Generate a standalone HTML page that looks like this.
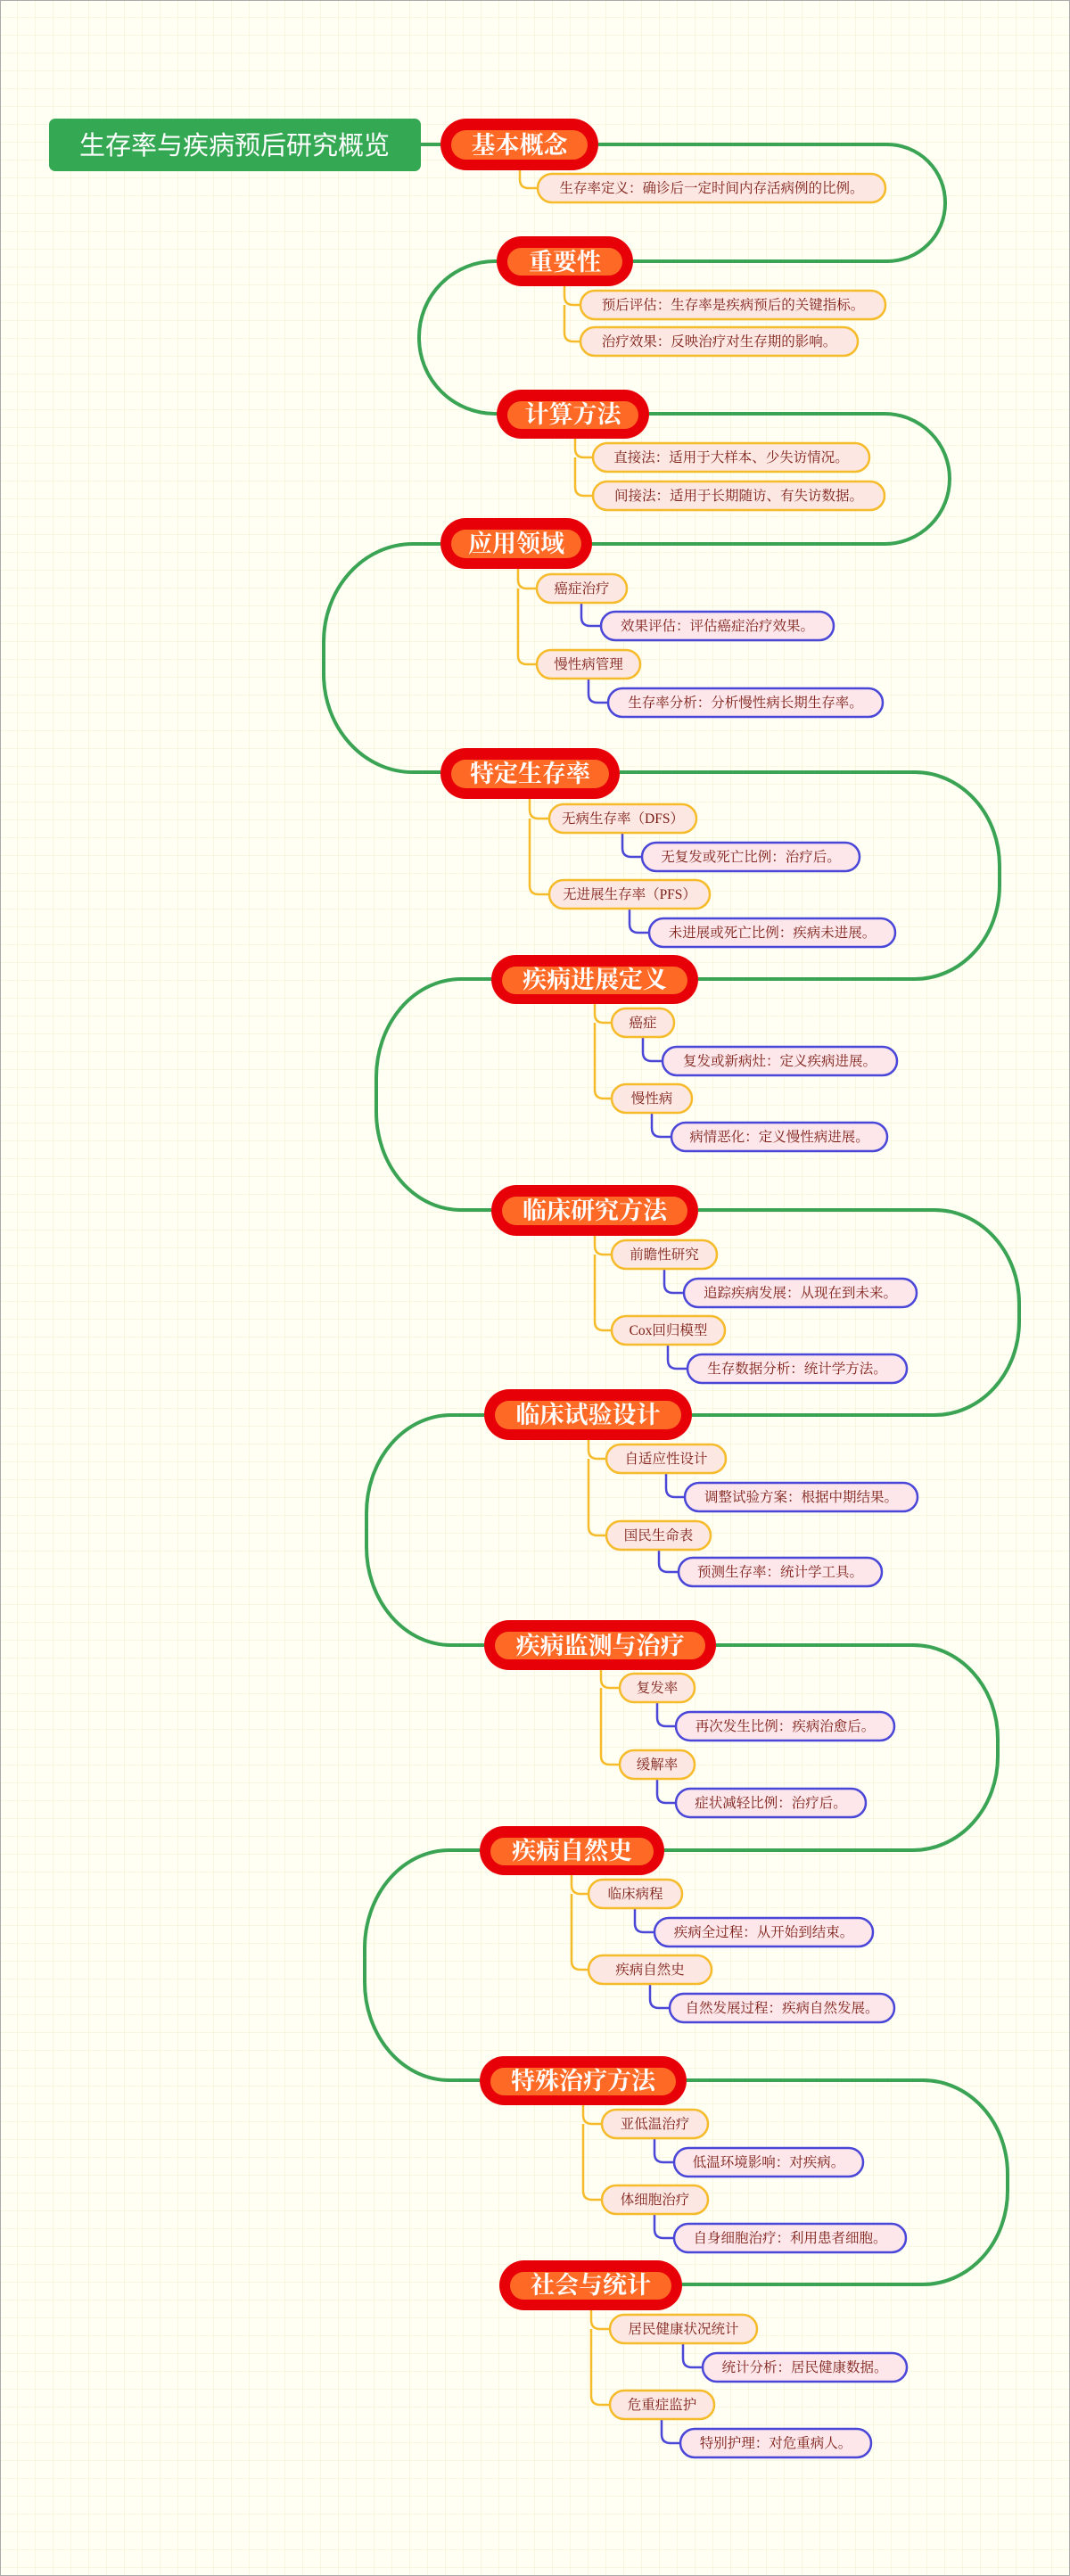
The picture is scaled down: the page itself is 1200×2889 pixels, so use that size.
<!DOCTYPE html>
<html><head><meta charset="utf-8"><style>
html,body{margin:0;padding:0;width:1200px;height:2889px;overflow:hidden;background:#fffff3}
svg{display:block}
.mt{font-family:"Liberation Serif","Noto Serif CJK SC",serif;font-weight:bold;font-size:27px;fill:#fff}
.ct{font-family:"Liberation Serif","Noto Serif CJK SC",serif;font-size:15.5px;fill:#7a1a12}
</style></head><body>
<svg width="1200" height="2889" viewBox="0 0 1200 2889" xmlns="http://www.w3.org/2000/svg">
<defs>
<pattern id="g" width="20" height="20" patternUnits="userSpaceOnUse">
<path d="M20 0V20M0 20H20" stroke="#f2f2d6" stroke-width="1.2" fill="none"/>
</pattern>
</defs>
<rect width="1200" height="2889" fill="#fffff3"/>
<rect width="1200" height="2889" fill="url(#g)"/>
<rect x="0.5" y="0.5" width="1199" height="2888" fill="none" stroke="#aaa" stroke-width="1"/>

<!-- green loops -->
<g fill="none" stroke="#3aa354" stroke-width="4">
<path d="M472 162H494"/>
<path d="M671 162H995A65 65 0 0 1 1060 227V228A65 65 0 0 1 995 293H710"/>
<path d="M557 293H555A85 85 0 0 0 470 378V379A85 85 0 0 0 555 464H557"/>
<path d="M728 464H992A73 73 0 0 1 1065 537V537A73 73 0 0 1 992 610H664"/>
<path d="M494 610H463A100 110 0 0 0 363 720V756A100 110 0 0 0 463 866H494"/>
<path d="M695 866H1026A95 105 0 0 1 1121 971V993A95 105 0 0 1 1026 1098H783"/>
<path d="M551 1098H517A95 110 0 0 0 422 1208V1247A95 110 0 0 0 517 1357H551"/>
<path d="M783 1357H1048A95 105 0 0 1 1143 1462V1482A95 105 0 0 1 1048 1587H776"/>
<path d="M543 1587H506A95 110 0 0 0 411 1697V1735A95 110 0 0 0 506 1845H543"/>
<path d="M803 1845H1024A95 105 0 0 1 1119 1950V1970A95 105 0 0 1 1024 2075H745"/>
<path d="M538 2075H504A95 110 0 0 0 409 2185V2223A95 110 0 0 0 504 2333H538"/>
<path d="M770 2333H1035A95 105 0 0 1 1130 2438V2457A95 105 0 0 1 1035 2562H765"/>
</g>

<!-- yellow connectors -->
<g fill="none" stroke="#f5bb2a" stroke-width="2.5">
<path d="M583 191V201Q583 211 593 211H603"/>
<path d="M633 321V332Q633 342 643 342H651M633 342V373Q633 383 643 383H651"/>
<path d="M645 492V503Q645 513 655 513H665M645 513V546Q645 556 655 556H665"/>
<path d="M581 638V650Q581 660 591 660H602M581 660V735Q581 745 591 745H602"/>
<path d="M594 896V908Q594 918 604 918H616M594 918V993Q594 1003 604 1003H616"/>
<path d="M667 1126V1137Q667 1147 677 1147H686M667 1147V1222Q667 1232 677 1232H686"/>
<path d="M667 1386V1397Q667 1407 677 1407H686M667 1407V1482Q667 1492 677 1492H686"/>
<path d="M660 1615V1626Q660 1636 670 1636H680M660 1636V1712Q660 1722 670 1722H680"/>
<path d="M674 1873V1883Q674 1893 684 1893H695M674 1893V1969Q674 1979 684 1979H695"/>
<path d="M641 2103V2114Q641 2124 651 2124H660M641 2124V2199Q641 2209 651 2209H660"/>
<path d="M654 2361V2372Q654 2382 664 2382H675M654 2382V2457Q654 2467 664 2467H675"/>
<path d="M663 2591V2602Q663 2612 673 2612H684M663 2612V2687Q663 2697 673 2697H684"/>
</g>

<!-- blue connectors -->
<g fill="none" stroke="#4a46d8" stroke-width="2.5">
<path d="M652 676V692Q652 702 662 702H674"/>
<path d="M660 761V778Q660 788 670 788H682"/>
<path d="M698 934V951Q698 961 708 961H720"/>
<path d="M706 1019V1036Q706 1046 716 1046H728"/>
<path d="M721 1163V1180Q721 1190 731 1190H743"/>
<path d="M731 1248V1265Q731 1275 741 1275H753"/>
<path d="M745 1423V1440Q745 1450 755 1450H767"/>
<path d="M749 1508V1525Q749 1535 759 1535H771"/>
<path d="M747 1652V1669Q747 1679 757 1679H768"/>
<path d="M739 1738V1753Q739 1763 749 1763H761"/>
<path d="M737 1909V1926Q737 1936 747 1936H758"/>
<path d="M737 1995V2012Q737 2022 747 2022H758"/>
<path d="M712 2140V2157Q712 2167 722 2167H734"/>
<path d="M729 2225V2242Q729 2252 739 2252H751"/>
<path d="M734 2398V2415Q734 2425 744 2425H756"/>
<path d="M734 2483V2500Q734 2510 744 2510H756"/>
<path d="M766 2628V2645Q766 2655 776 2655H788"/>
<path d="M742 2713V2730Q742 2740 752 2740H763"/>
</g>

<!-- title -->
<rect x="55" y="133" width="417" height="59" rx="7" fill="#35a853"/>
<text x="263" y="173" text-anchor="middle" style="font-family:'Liberation Sans','Noto Sans CJK SC',sans-serif;font-size:29px;fill:#fff">生存率与疾病预后研究概览</text>

<!-- main nodes -->
<g>
<rect x="494" y="133" width="177" height="58" rx="29" fill="#e80008"/><rect x="506" y="146" width="153" height="33" rx="16.5" fill="#fe6a26"/>
<text class="mt" x="582.5" y="172" text-anchor="middle">基本概念</text>
<rect x="557" y="265" width="153" height="56" rx="28" fill="#e80008"/><rect x="569" y="278" width="129" height="31" rx="15.5" fill="#fe6a26"/>
<text class="mt" x="633.5" y="303" text-anchor="middle">重要性</text>
<rect x="557" y="437" width="171" height="55" rx="27.5" fill="#e80008"/><rect x="569" y="450" width="147" height="31" rx="15.5" fill="#fe6a26"/>
<text class="mt" x="642.5" y="474" text-anchor="middle">计算方法</text>
<rect x="494" y="581" width="170" height="57" rx="28.5" fill="#e80008"/><rect x="506" y="594" width="146" height="32" rx="16" fill="#fe6a26"/>
<text class="mt" x="579" y="619" text-anchor="middle">应用领域</text>
<rect x="494" y="839" width="201" height="57" rx="28.5" fill="#e80008"/><rect x="506" y="852" width="177" height="32" rx="16" fill="#fe6a26"/>
<text class="mt" x="594.5" y="877" text-anchor="middle">特定生存率</text>
<rect x="551" y="1071" width="232" height="55" rx="27.5" fill="#e80008"/><rect x="563" y="1084" width="208" height="31" rx="15.5" fill="#fe6a26"/>
<text class="mt" x="667" y="1108" text-anchor="middle">疾病进展定义</text>
<rect x="551" y="1329" width="232" height="57" rx="28.5" fill="#e80008"/><rect x="563" y="1342" width="208" height="32" rx="16" fill="#fe6a26"/>
<text class="mt" x="667" y="1367" text-anchor="middle">临床研究方法</text>
<rect x="543" y="1558" width="233" height="57" rx="28.5" fill="#e80008"/><rect x="555" y="1571" width="209" height="32" rx="16" fill="#fe6a26"/>
<text class="mt" x="659.5" y="1596" text-anchor="middle">临床试验设计</text>
<rect x="543" y="1817" width="260" height="56" rx="28" fill="#e80008"/><rect x="555" y="1830" width="236" height="31" rx="15.5" fill="#fe6a26"/>
<text class="mt" x="673" y="1855" text-anchor="middle">疾病监测与治疗</text>
<rect x="538" y="2048" width="207" height="55" rx="27.5" fill="#e80008"/><rect x="550" y="2061" width="183" height="31" rx="15.5" fill="#fe6a26"/>
<text class="mt" x="641.5" y="2085" text-anchor="middle">疾病自然史</text>
<rect x="538" y="2306" width="232" height="55" rx="27.5" fill="#e80008"/><rect x="550" y="2319" width="208" height="31" rx="15.5" fill="#fe6a26"/>
<text class="mt" x="654" y="2343" text-anchor="middle">特殊治疗方法</text>
<rect x="560" y="2535" width="205" height="56" rx="28" fill="#e80008"/><rect x="572" y="2548" width="181" height="31" rx="15.5" fill="#fe6a26"/>
<text class="mt" x="662.5" y="2572" text-anchor="middle">社会与统计</text>
</g>

<!-- level 2 boxes (yellow) -->
<g fill="#fde7e3" stroke="#f5bb2a" stroke-width="2.5">
<rect x="603" y="195" width="390" height="32" rx="16"/>
<rect x="651" y="326" width="342" height="32" rx="16"/>
<rect x="651" y="367" width="311" height="32" rx="16"/>
<rect x="665" y="497" width="310" height="32" rx="16"/>
<rect x="665" y="540" width="327" height="32" rx="16"/>
<rect x="602" y="644" width="101" height="32" rx="16"/>
<rect x="602" y="729" width="116" height="32" rx="16"/>
<rect x="616" y="902" width="165" height="32" rx="16"/>
<rect x="616" y="987" width="180" height="32" rx="16"/>
<rect x="686" y="1131" width="70" height="32" rx="16"/>
<rect x="686" y="1216" width="90" height="32" rx="16"/>
<rect x="686" y="1391" width="118" height="32" rx="16"/>
<rect x="686" y="1476" width="127" height="32" rx="16"/>
<rect x="680" y="1620" width="134" height="32" rx="16"/>
<rect x="680" y="1706" width="117" height="32" rx="16"/>
<rect x="695" y="1877" width="84" height="32" rx="16"/>
<rect x="695" y="1963" width="84" height="32" rx="16"/>
<rect x="660" y="2108" width="105" height="32" rx="16"/>
<rect x="660" y="2193" width="138" height="32" rx="16"/>
<rect x="675" y="2366" width="119" height="32" rx="16"/>
<rect x="675" y="2451" width="119" height="32" rx="16"/>
<rect x="684" y="2596" width="165" height="32" rx="16"/>
<rect x="684" y="2681" width="117" height="32" rx="16"/>
</g>
<!-- level 3 boxes (blue) -->
<g fill="#fde7ea" stroke="#4a46d8" stroke-width="2.5">
<rect x="674" y="686" width="261" height="32" rx="16"/>
<rect x="682" y="772" width="308" height="32" rx="16"/>
<rect x="720" y="945" width="244" height="32" rx="16"/>
<rect x="728" y="1030" width="276" height="32" rx="16"/>
<rect x="743" y="1174" width="263" height="32" rx="16"/>
<rect x="753" y="1259" width="242" height="32" rx="16"/>
<rect x="767" y="1434" width="261" height="32" rx="16"/>
<rect x="771" y="1519" width="246" height="32" rx="16"/>
<rect x="768" y="1663" width="261" height="32" rx="16"/>
<rect x="761" y="1747" width="228" height="32" rx="16"/>
<rect x="758" y="1920" width="245" height="32" rx="16"/>
<rect x="758" y="2006" width="213" height="32" rx="16"/>
<rect x="734" y="2151" width="245" height="32" rx="16"/>
<rect x="751" y="2236" width="252" height="32" rx="16"/>
<rect x="756" y="2409" width="212" height="32" rx="16"/>
<rect x="756" y="2494" width="260" height="32" rx="16"/>
<rect x="788" y="2639" width="229" height="32" rx="16"/>
<rect x="763" y="2724" width="214" height="32" rx="16"/>
</g>

<!-- child texts -->
<g class="ct" text-anchor="middle">
<text x="798" y="216">生存率定义：确诊后一定时间内存活病例的比例。</text>
<text x="822" y="347">预后评估：生存率是疾病预后的关键指标。</text>
<text x="806.5" y="388">治疗效果：反映治疗对生存期的影响。</text>
<text x="820" y="518">直接法：适用于大样本、少失访情况。</text>
<text x="828.5" y="561">间接法：适用于长期随访、有失访数据。</text>
<text x="652.5" y="665">癌症治疗</text>
<text x="804.5" y="707">效果评估：评估癌症治疗效果。</text>
<text x="660" y="750">慢性病管理</text>
<text x="836" y="793">生存率分析：分析慢性病长期生存率。</text>
<text x="698.5" y="923">无病生存率（DFS）</text>
<text x="842" y="966">无复发或死亡比例：治疗后。</text>
<text x="706" y="1008">无进展生存率（PFS）</text>
<text x="866" y="1051">未进展或死亡比例：疾病未进展。</text>
<text x="721" y="1152">癌症</text>
<text x="874.5" y="1195">复发或新病灶：定义疾病进展。</text>
<text x="731" y="1237">慢性病</text>
<text x="874" y="1280">病情恶化：定义慢性病进展。</text>
<text x="745" y="1412">前瞻性研究</text>
<text x="897.5" y="1455">追踪疾病发展：从现在到未来。</text>
<text x="749.5" y="1497">Cox回归模型</text>
<text x="894" y="1540">生存数据分析：统计学方法。</text>
<text x="747" y="1641">自适应性设计</text>
<text x="898.5" y="1684">调整试验方案：根据中期结果。</text>
<text x="738.5" y="1727">国民生命表</text>
<text x="875" y="1768">预测生存率：统计学工具。</text>
<text x="737" y="1898">复发率</text>
<text x="880.5" y="1941">再次发生比例：疾病治愈后。</text>
<text x="737" y="1984">缓解率</text>
<text x="864.5" y="2027">症状减轻比例：治疗后。</text>
<text x="712.5" y="2129">临床病程</text>
<text x="856.5" y="2172">疾病全过程：从开始到结束。</text>
<text x="729" y="2214">疾病自然史</text>
<text x="877" y="2257">自然发展过程：疾病自然发展。</text>
<text x="734.5" y="2387">亚低温治疗</text>
<text x="862" y="2430">低温环境影响：对疾病。</text>
<text x="734.5" y="2472">体细胞治疗</text>
<text x="886" y="2515">自身细胞治疗：利用患者细胞。</text>
<text x="766.5" y="2617">居民健康状况统计</text>
<text x="902.5" y="2660">统计分析：居民健康数据。</text>
<text x="742.5" y="2702">危重症监护</text>
<text x="870" y="2745">特别护理：对危重病人。</text>
</g>
</svg>
</body></html>
